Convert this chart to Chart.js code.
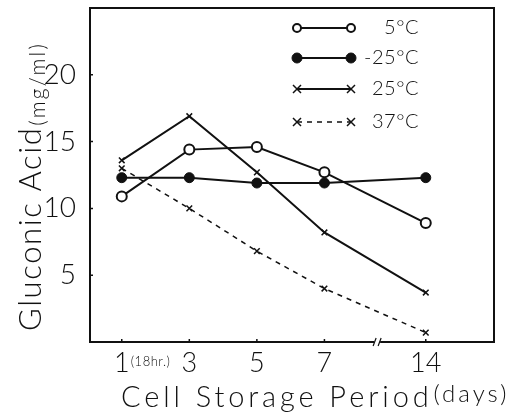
<!DOCTYPE html>
<html>
<head>
<meta charset="utf-8">
<script src="https://cdn.jsdelivr.net/npm/chart.js@4.4.0/dist/chart.umd.min.js"></script>
<style>
  html, body { margin: 0; padding: 0; background: #fff; }
  #wrap { width: 517px; height: 416px; }
</style>
</head>
<body>
<div id="wrap"><canvas id="chart" width="517" height="416"></canvas></div>
<script>
const days = ['1', '3', '5', '7', '14'];
const temps = ['5°C', '-25°C', '25°C', '37°C'];
const acid5 = [10.9, 14.4, 14.6, 12.7, 8.9];
const acidMinus25 = [12.3, 12.3, 11.9, 11.9, 12.3];
const acid25 = [13.6, 16.9, 12.7, 8.2, 3.7];
const acid37 = [13.0, 10.0, 6.8, 4.0, 0.7];
const yTicks = [5, 10, 15, 20];

const FONT = 'Lato';
const INK = '#111';

// axis is broken between 7 and 14 days, so 14 sits one and a half steps on
const slot = i => (i < 4 ? i : i + 0.5);
const toPoints = vals => vals.map((v, i) => ({ x: slot(i), y: v }));

const datasets = [
    { label: temps[0], data: toPoints(acid5), pointStyle: 'circle', pointRadius: 5,
      pointBackgroundColor: '#fff', pointBorderWidth: 2, borderWidth: 2, borderDash: [] },
    { label: temps[1], data: toPoints(acidMinus25), pointStyle: 'circle', pointRadius: 5,
      pointBackgroundColor: INK, pointBorderWidth: 1, borderWidth: 2, borderDash: [] },
    { label: temps[2], data: toPoints(acid25), pointStyle: 'crossRot', pointRadius: 4,
      pointBackgroundColor: INK, pointBorderWidth: 1.5, borderWidth: 2, borderDash: [] },
    { label: temps[3], data: toPoints(acid37), pointStyle: 'crossRot', pointRadius: 4,
      pointBackgroundColor: INK, pointBorderWidth: 1.5, borderWidth: 1.5, borderDash: [5, 5] }
].map(d => Object.assign({ borderColor: INK, pointBorderColor: INK, tension: 0, fill: false }, d));

function marker(ctx, ds, x, y, r) {
    ctx.save();
    ctx.setLineDash([]);
    ctx.strokeStyle = INK;
    ctx.lineWidth = ds.pointBorderWidth;
    if (ds.pointStyle === 'circle') {
        ctx.beginPath();
        ctx.arc(x, y, r, 0, Math.PI * 2);
        ctx.fillStyle = ds.pointBackgroundColor;
        ctx.fill();
        ctx.stroke();
    } else {
        ctx.beginPath();
        ctx.moveTo(x - r, y - r); ctx.lineTo(x + r, y + r);
        ctx.moveTo(x + r, y - r); ctx.lineTo(x - r, y + r);
        ctx.stroke();
    }
    ctx.restore();
}

function spaced(ctx, text, x, y, font, gap) {
    ctx.font = font;
    ctx.letterSpacing = gap + 'px';
    ctx.fillText(text, x, y);
    const w = ctx.measureText(text).width;
    ctx.letterSpacing = '0px';
    return w;
}

const decorations = {
    id: 'decorations',
    afterDraw(chart) {
        const { ctx, chartArea: a, scales: { x, y } } = chart;
        ctx.save();

        // frame
        ctx.strokeStyle = INK;
        ctx.lineWidth = 2;
        ctx.strokeRect(a.left, a.top, a.right - a.left, a.bottom - a.top);

        // small inward ticks
        ctx.lineWidth = 1.5;
        ctx.beginPath();
        yTicks.forEach(v => {
            const py = y.getPixelForValue(v);
            ctx.moveTo(a.left, py); ctx.lineTo(a.left + 3, py);
        });
        days.forEach((d, i) => {
            const px = x.getPixelForValue(slot(i));
            ctx.moveTo(px, a.bottom); ctx.lineTo(px, a.bottom - 3);
        });
        ctx.stroke();

        // break mark on the x axis
        const bx = x.getPixelForValue(3.78);
        ctx.fillStyle = '#fff';
        ctx.fillRect(bx - 3, a.bottom - 2, 6, 4);
        ctx.lineWidth = 1.2;
        ctx.beginPath();
        ctx.moveTo(bx - 4, a.bottom + 4); ctx.lineTo(bx - 1, a.bottom - 4);
        ctx.moveTo(bx + 1, a.bottom + 4); ctx.lineTo(bx + 4, a.bottom - 4);
        ctx.stroke();

        // legend
        const rows = [28, 58, 89, 122];
        chart.data.datasets.forEach((ds, i) => {
            const ly = rows[i];
            ctx.strokeStyle = INK;
            ctx.lineWidth = ds.borderWidth;
            ctx.setLineDash(ds.borderDash);
            ctx.beginPath();
            ctx.moveTo(297, ly); ctx.lineTo(351, ly);
            ctx.stroke();
            ctx.setLineDash([]);
            const r = i === 0 ? 4 : ds.pointRadius;
            marker(ctx, ds, 297, ly, r);
            marker(ctx, ds, 351, ly, r);
            ctx.fillStyle = INK;
            ctx.textAlign = 'right';
            ctx.textBaseline = 'middle';
            spaced(ctx, ds.label, 419, ly, `300 20px ${FONT}`, 0.5);
        });

        ctx.fillStyle = INK;
        ctx.textAlign = 'left';
        ctx.textBaseline = 'alphabetic';

        // "(18hr.)" after the first day tick
        spaced(ctx, '(18hr.)', x.getPixelForValue(0) + 9, a.bottom + 24, `300 13px ${FONT}`, 0.5);

        // x title
        const w = spaced(ctx, 'Cell Storage Period', 121, 407, `300 29px ${FONT}`, 3.9);
        spaced(ctx, '(days)', 121 + w + 1, 402, `300 24px ${FONT}`, 3);

        // y title
        ctx.translate(41, 331);
        ctx.rotate(-Math.PI / 2);
        const w2 = spaced(ctx, 'Gluconic Acid', 0, 0, `300 31px ${FONT}`, 1.6);
        spaced(ctx, '(mg/ml)', w2 + 1, 4, `300 21px ${FONT}`, 2.2);

        ctx.restore();
    }
};

new Chart(document.getElementById('chart'), {
    type: 'line',
    data: { datasets },
    plugins: [decorations],
    options: {
        responsive: false,
        animation: false,
        devicePixelRatio: 1,
        layout: { padding: { top: 8, right: 23, left: 0, bottom: 0 } },
        plugins: { legend: { display: false }, tooltip: { enabled: false } },
        scales: {
            x: {
                type: 'linear',
                min: -0.47,
                max: 5.51,
                afterBuildTicks: s => { s.ticks = days.map((d, i) => ({ value: slot(i) })); },
                afterFit: s => { s.height = 74; },
                grid: { display: false },
                border: { display: false },
                ticks: {
                    callback: (v, i) => days[i],
                    autoSkip: false,
                    maxRotation: 0,
                    color: INK,
                    padding: 2,
                    font: { family: FONT, size: 27, weight: 300, lineHeight: 0.8 }
                }
            },
            y: {
                min: 0,
                max: 25,
                afterBuildTicks: s => { s.ticks = yTicks.map(v => ({ value: v })); },
                afterFit: s => { s.width = 90; },
                grid: { display: false },
                border: { display: false },
                ticks: {
                    color: INK,
                    padding: 6,
                    font: { family: FONT, size: 28, weight: 300, lineHeight: 0.02 }
                }
            }
        }
    }
});
</script>
</body>
</html>
